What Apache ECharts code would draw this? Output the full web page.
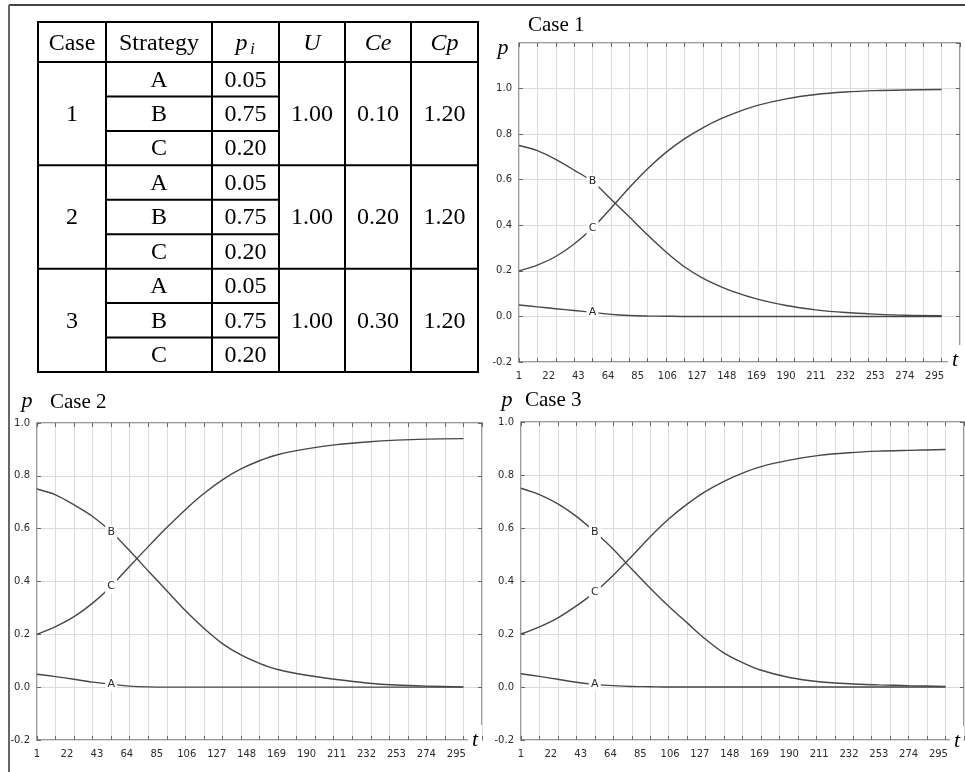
<!DOCTYPE html>
<html><head><meta charset="utf-8">
<script src="https://cdn.jsdelivr.net/npm/echarts@6/dist/echarts.min.js"></script>
<style>html,body{margin:0;padding:0;background:#fff}#c{width:965px;height:772px}</style>
</head><body><div id="c"></div>
<script>
// ---- data ----
const T = [1, 14, 27, 40, 53, 66, 79, 92, 105, 118, 131, 144, 157, 169, 190, 211, 232, 253, 274, 300];
const case1A = [0.050, 0.042, 0.034, 0.026, 0.018, 0.009, 0.004, 0.002, 0.001, 0, 0, 0, 0, 0, 0, 0, 0, 0, 0, 0];
const case1B = [0.750, 0.728, 0.689, 0.642, 0.592, 0.515, 0.437, 0.357, 0.283, 0.218, 0.168, 0.130, 0.100, 0.077, 0.048, 0.029, 0.017, 0.010, 0.005, 0.003];
const case1C = [0.200, 0.225, 0.263, 0.318, 0.388, 0.475, 0.565, 0.648, 0.720, 0.779, 0.828, 0.868, 0.900, 0.925, 0.955, 0.974, 0.985, 0.991, 0.994, 0.996];
const case2A = [0.049, 0.040, 0.030, 0.019, 0.011, 0.004, 0.001, 0, 0, 0, 0, 0, 0, 0, 0, 0, 0, 0, 0, 0];
const case2B = [0.750, 0.728, 0.690, 0.646, 0.588, 0.516, 0.440, 0.365, 0.290, 0.223, 0.165, 0.122, 0.090, 0.068, 0.045, 0.029, 0.016, 0.008, 0.004, 0.001];
const case2C = [0.200, 0.229, 0.267, 0.318, 0.382, 0.458, 0.532, 0.604, 0.672, 0.733, 0.785, 0.826, 0.857, 0.879, 0.902, 0.918, 0.928, 0.935, 0.939, 0.941];
const case3A = [0.050, 0.040, 0.029, 0.018, 0.010, 0.005, 0.002, 0.001, 0, 0, 0, 0, 0, 0, 0, 0, 0, 0, 0, 0];
const case3B = [0.750, 0.726, 0.691, 0.644, 0.585, 0.520, 0.445, 0.373, 0.305, 0.242, 0.180, 0.128, 0.092, 0.065, 0.036, 0.020, 0.012, 0.008, 0.005, 0.002];
const case3C = [0.200, 0.227, 0.261, 0.306, 0.358, 0.422, 0.493, 0.567, 0.634, 0.690, 0.738, 0.776, 0.807, 0.830, 0.856, 0.874, 0.884, 0.890, 0.893, 0.896];
const xTickLabels = [1, 22, 43, 64, 85, 106, 127, 148, 169, 190, 211, 232, 253, 274, 295];
const caseTitles = ['Case 1', 'Case 2', 'Case 3'];
const strategyNames = ['A', 'B', 'C'];
const tableHeader = ['Case', 'Strategy', 'p', 'U', 'Ce', 'Cp'];
const caseIds = ['1', '2', '3'];
const pInit = ['0.05', '0.75', '0.20'];
const uVals = ['1.00', '1.00', '1.00'];
const ceVals = ['0.10', '0.20', '0.30'];
const cpVals = ['1.20', '1.20', '1.20'];

// ---- layout ----
const chart = echarts.init(document.getElementById('c'), null, {renderer: 'canvas'});
const cases = [
  {A: case1A, B: case1B, C: case1C, yMax: 1.2, grid: {left: 519, top: 43, width: 441, height: 319}},
  {A: case2A, B: case2B, C: case2C, yMax: 1.0, grid: {left: 37, top: 423, width: 445, height: 317}},
  {A: case3A, B: case3B, C: case3C, yMax: 1.0, grid: {left: 521, top: 422, width: 443, height: 318}}
];
const labelIdx = 4;
const sans = 'DejaVu Sans';
const serifFam = "'Liberation Serif', 'Times New Roman', serif";
const serifFont = (size, italic) => (italic ? 'italic ' : '') + size + 'px ' + serifFam;
const lineColor = '#474747';

const grid = [], xAxis = [], yAxis = [], series = [];
cases.forEach((c, i) => {
  grid.push(Object.assign({show: true, borderColor: '#7a7a7a', borderWidth: 1.5, backgroundColor: 'transparent'}, c.grid));
  xAxis.push({
    gridIndex: i, type: 'value', min: 1, max: 313, interval: 13, position: 'bottom',
    axisLine: {show: false, onZero: false},
    axisTick: {show: true, inside: true, length: 4, lineStyle: {color: '#666'}},
    splitLine: {show: true, lineStyle: {color: '#dcdcdc', width: 1}},
    axisLabel: {show: true, customValues: xTickLabels, fontSize: 10, fontFamily: sans, color: '#2a2a2a', margin: 9}
  });
  xAxis.push({
    gridIndex: i, type: 'value', min: 1, max: 313, interval: 13, position: 'top',
    axisLine: {show: false, onZero: false},
    axisTick: {show: true, inside: true, length: 4, lineStyle: {color: '#666'}},
    splitLine: {show: false}, axisLabel: {show: false}
  });
  yAxis.push({
    gridIndex: i, type: 'value', min: -0.2, max: c.yMax, interval: 0.2, position: 'left',
    axisLine: {show: false, onZero: false},
    axisTick: {show: true, inside: true, length: 4, lineStyle: {color: '#666'}},
    splitLine: {show: true, lineStyle: {color: '#dcdcdc', width: 1}},
    axisLabel: {fontSize: 10, fontFamily: sans, color: '#2a2a2a', margin: 7, showMaxLabel: c.yMax <= 1.0,
      formatter: v => v.toFixed(1)}
  });
  yAxis.push({
    gridIndex: i, type: 'value', min: -0.2, max: c.yMax, interval: 0.2, position: 'right',
    axisLine: {show: false, onZero: false},
    axisTick: {show: true, inside: true, length: 4, lineStyle: {color: '#666'}},
    splitLine: {show: false}, axisLabel: {show: false}
  });
  strategyNames.forEach(nm => {
    const arr = c[nm];
    series.push({
      type: 'line', name: 'Case ' + (i + 1) + ' ' + nm,
      xAxisIndex: i * 2, yAxisIndex: i * 2,
      data: T.map((t, k) => [t, arr[k]]),
      smooth: 0.3, showSymbol: false, symbol: 'none',
      lineStyle: {color: lineColor, width: 1.4}, z: 3,
      markPoint: {
        symbol: 'rect', symbolSize: [12, 14], itemStyle: {color: '#fff'}, z: 5,
        label: {show: true, formatter: nm, color: '#2a2a2a', fontSize: 11, fontFamily: sans, position: 'inside'},
        data: [{coord: [T[labelIdx], arr[labelIdx]]}]
      }
    });
  });
});

// ---- graphics: frame, table, titles ----
const g = [];
g.push({type: 'line', shape: {x1: 9, y1: 5, x2: 965, y2: 5}, style: {stroke: '#444', lineWidth: 2}});
g.push({type: 'line', shape: {x1: 9, y1: 5, x2: 9, y2: 772}, style: {stroke: '#666', lineWidth: 2}});

const colX = [38, 106, 212, 279, 345, 411, 478];
const tTop = 22, hdrBot = 62, tBot = 372;
const rowH = (tBot - hdrBot) / 9;
const tstroke = {stroke: '#000', lineWidth: 2};
g.push({type: 'rect', shape: {x: colX[0], y: tTop, width: colX[6] - colX[0], height: tBot - tTop}, style: {fill: 'none', stroke: '#000', lineWidth: 2}});
for (let k = 1; k < 6; k++) g.push({type: 'line', shape: {x1: colX[k], y1: tTop, x2: colX[k], y2: tBot}, style: tstroke});
g.push({type: 'line', shape: {x1: colX[0], y1: hdrBot, x2: colX[6], y2: hdrBot}, style: tstroke});
for (let r = 1; r < 9; r++) {
  const y = hdrBot + r * rowH;
  if (r % 3 === 0) g.push({type: 'line', shape: {x1: colX[0], y1: y, x2: colX[6], y2: y}, style: tstroke});
  else g.push({type: 'line', shape: {x1: colX[1], y1: y, x2: colX[3], y2: y}, style: tstroke});
}
const cx = k => (colX[k] + colX[k + 1]) / 2;
const tText = (text, x, y, italic, size) => ({type: 'text', x: x, y: y,
  style: {text: text, font: serifFont(size || 24, italic), fill: '#000', textAlign: 'center', textVerticalAlign: 'middle'}});
const hy = (tTop + hdrBot) / 2 + 2;
tableHeader.forEach((h, k) => {
  let x = cx(k);
  if (k === 2) x -= 4;
  g.push(tText(h, x, hy, k >= 2));
});
g.push(tText('i', cx(2) + 7, hy + 6, true, 16));
caseIds.forEach((cid, ci) => {
  const gy = hdrBot + (ci * 3 + 1.5) * rowH + 1;
  g.push(tText(cid, cx(0), gy, false));
  g.push(tText(uVals[ci], cx(3), gy, false));
  g.push(tText(ceVals[ci], cx(4), gy, false));
  g.push(tText(cpVals[ci], cx(5), gy, false));
  strategyNames.forEach((s, si) => {
    const ry = hdrBot + (ci * 3 + si + 0.5) * rowH + 1;
    g.push(tText(s, cx(1), ry, false));
    g.push(tText(pInit[si], cx(2), ry, false));
  });
});

// chart titles and axis names
const titlePos = [[528, 25], [50, 402], [525, 400]];
const pPos = [[503, 48], [27, 401], [507, 400]];
const tPos = [[955, 360], [475, 740], [957, 741]];
caseTitles.forEach((ct, i) => {
  g.push({type: 'text', x: titlePos[i][0], y: titlePos[i][1], style: {text: ct, font: serifFont(21, false), fill: '#000', textAlign: 'left', textVerticalAlign: 'middle'}});
  g.push({type: 'text', x: pPos[i][0], y: pPos[i][1], style: {text: 'p', font: serifFont(22, true), fill: '#000', textAlign: 'center', textVerticalAlign: 'middle'}});
  g.push({type: 'text', x: tPos[i][0], y: tPos[i][1], z: 100, style: {text: 't', font: serifFont(22, true), fill: '#000', textAlign: 'center', textVerticalAlign: 'middle', backgroundColor: '#fff', padding: [6, 4, 2, 4]}});
});

chart.setOption({
  animation: false,
  backgroundColor: '#fff',
  grid, xAxis, yAxis, series,
  graphic: {elements: g}
});
</script>
</body></html>
